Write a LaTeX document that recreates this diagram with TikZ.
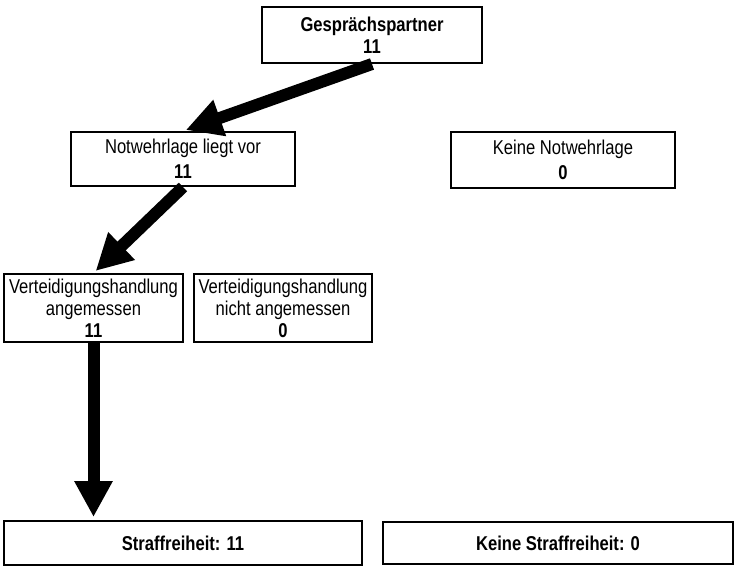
\documentclass[tikz,border=0pt]{standalone}
\usepackage{fontspec}
\setmainfont{Liberation Sans}[FakeStretch=0.83]
\usetikzlibrary{arrows.meta}

\begin{document}
\begin{tikzpicture}[x=1pt,y=-1pt,
    box/.style={draw,line width=2pt,align=center,inner sep=0pt,
      font=\fontsize{20}{22}\selectfont},
    flow/.style={-{Triangle[length=36pt,width=36pt]},line width=12pt,shorten >=3pt}]
  \useasboundingbox (0,0) rectangle (735,566);

  % Define vertices
  \node[box,minimum width=220pt,minimum height=56pt] (gp) at (372,35)
    {\textbf{Gesprächspartner}\\\textbf{11}};
  \node[box,minimum width=224pt,minimum height=54pt] (nwl) at (183,159)
    {Notwehrlage liegt vor\\[3pt]\textbf{11}};
  \node[box,minimum width=224pt,minimum height=56pt] (knwl) at (563,159.5)
    {Keine Notwehrlage\\[3pt]\textbf{0}};
  \node[box,minimum width=179pt,minimum height=68pt] (vha) at (93.5,308)
    {Verteidigungshandlung\\angemessen\\\textbf{11}};
  \node[box,minimum width=178pt,minimum height=68pt] (vhn) at (283,308)
    {Verteidigungshandlung\\nicht angemessen\\\textbf{0}};
  \node[box,minimum width=358pt,minimum height=44pt] (sf) at (183,543)
    {\textbf{Straffreiheit: 11}};
  \node[box,minimum width=350pt,minimum height=42pt] (ksf) at (558,543)
    {\textbf{Keine Straffreiheit: 0}};

  % Draw edges
  \path[flow]
    (gp.south) edge (nwl.north)
    (nwl.south) edge (vha.north)
    (vha.south) edge (vha.south |- sf.north);

\end{tikzpicture}
\end{document}
